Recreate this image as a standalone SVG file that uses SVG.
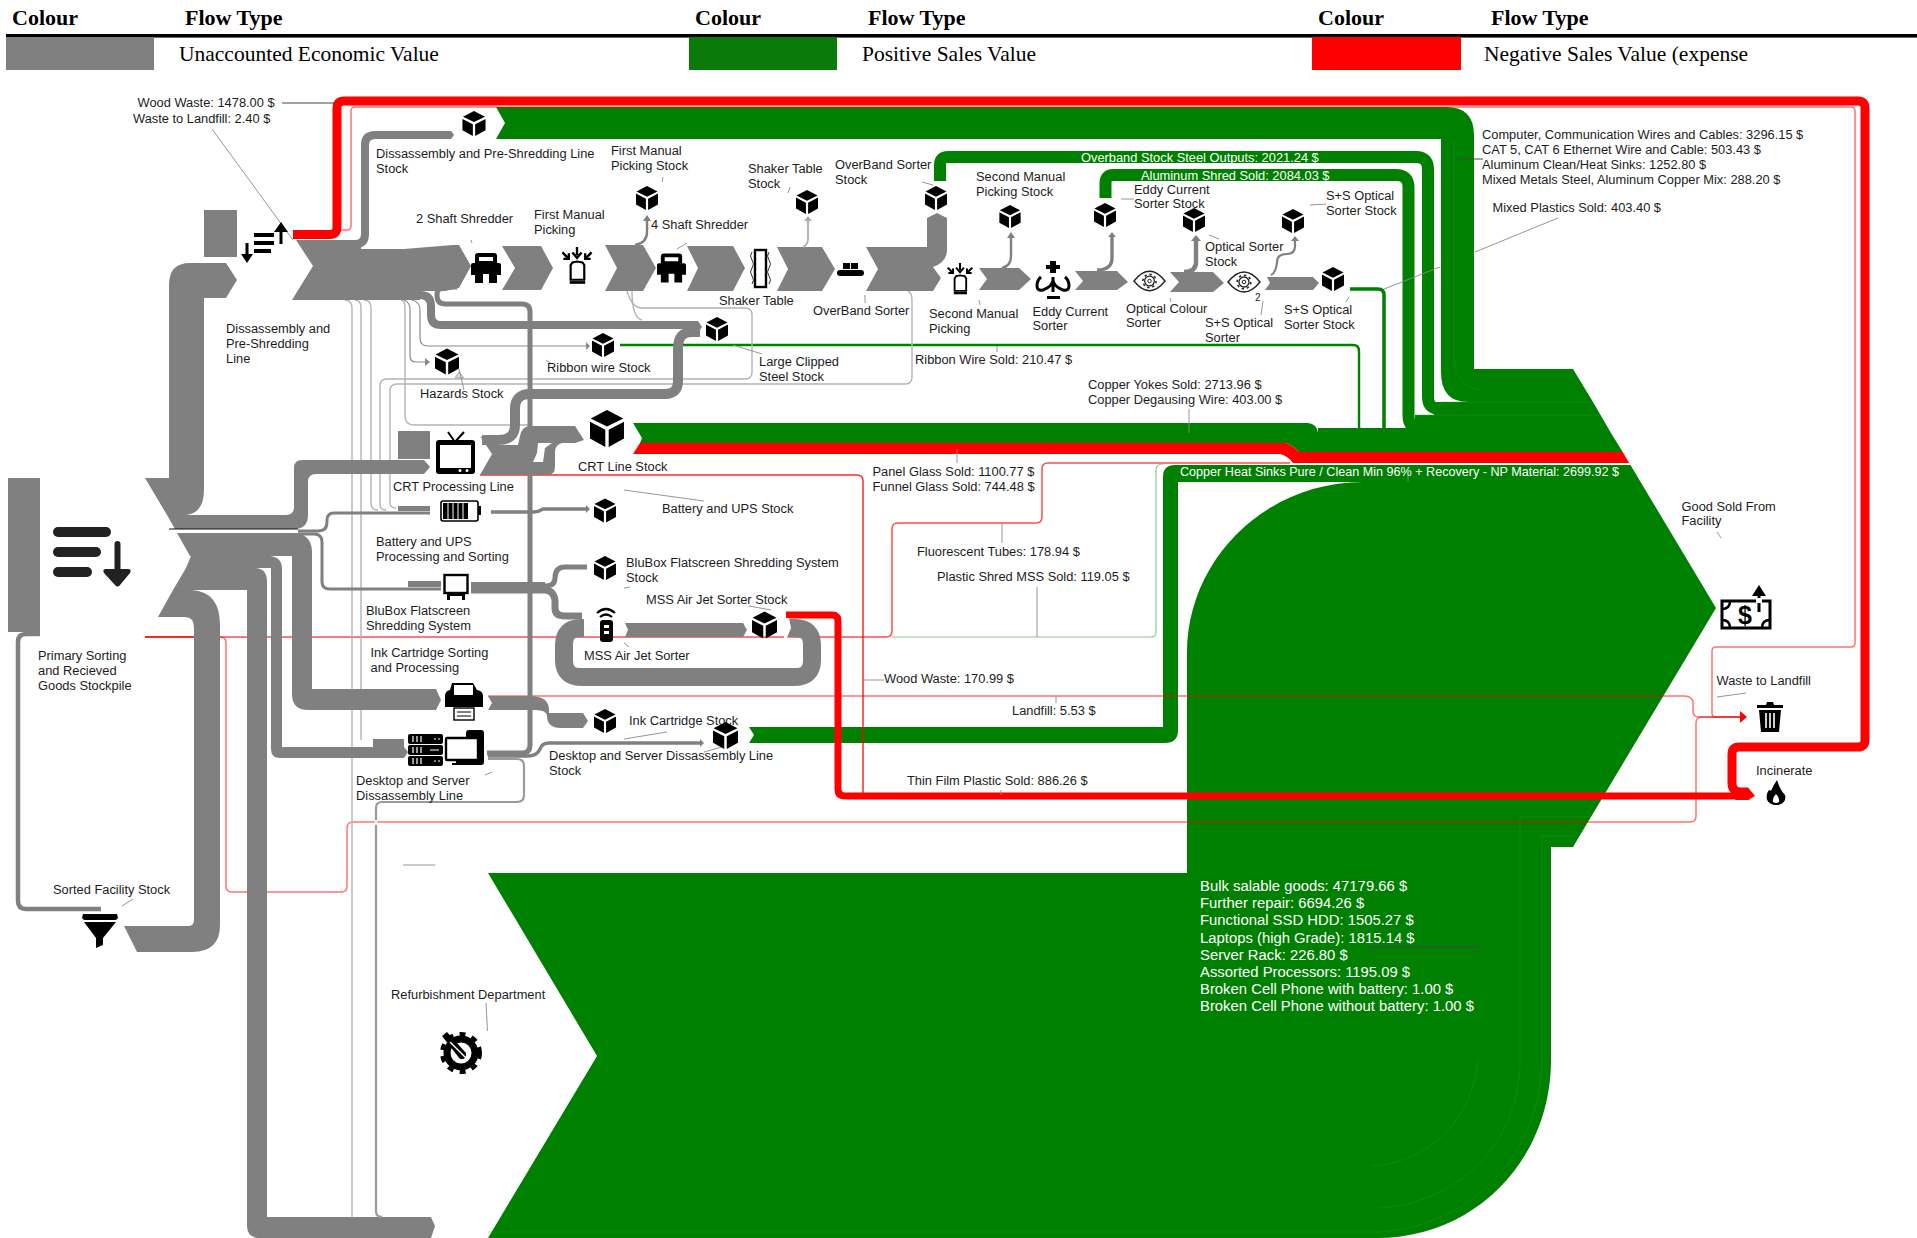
<svg xmlns="http://www.w3.org/2000/svg" width="1917" height="1238" viewBox="0 0 1917 1238">
<style>
text{font-family:"Liberation Sans",Arial,sans-serif;font-size:12.85px;fill:#1c1c1c}
.h{font-family:"Liberation Serif","Times New Roman",serif;font-weight:700;font-size:22px;fill:#000}
.v{font-family:"Liberation Serif","Times New Roman",serif;font-size:21.5px;fill:#000}
.w{fill:#fff}.b{font-size:14.85px;fill:#fff}
.gr{fill:#808080}.gn{fill:#008000}.rd{fill:#f00}
.sg{fill:none;stroke:#808080}
.sn{fill:none;stroke:#008000}
.sr{fill:none;stroke:#f00}
.tl{fill:none;stroke:#f00;stroke-width:1.5;opacity:.55}
.lg{fill:none;stroke:#b4b4b4;stroke-width:1.4}
.ld{fill:none;stroke:#8a8a8a;stroke-width:.9}
.sm{fill:none;stroke:#1f9a1f;stroke-width:1;opacity:.4}
.wh{fill:#fff}
</style>
<defs>
<symbol id="cube" viewBox="-12 -13 24 26"><path d="M0-13 11.5-7 0-1.5-11.5-7ZM-12-4.8-1.2.8V13L-12 7ZM12-4.8 1.2.8V13L12 7Z"/></symbol>
<symbol id="shred" viewBox="0 0 30 30"><path fill-rule="evenodd" d="M7 0H23Q26 0 26 3V10H28Q30 10 30 12V22H26V30H18V21H12V30H4V22H0V12Q0 10 2 10H4V3Q4 0 7 0ZM8 4V8H22V4Z"/></symbol>
<symbol id="pick" viewBox="0 0 36 44"><path d="M18 0V9M13 6 18 12 23 6M2 6 9 13M3 13H9V7M34 6 27 13M33 13H27V7" fill="none" stroke="#000" stroke-width="2.6"/><path d="M11 20 13 17 18 16 24 17 26 20V36H11Z" fill="#fff" stroke="#000" stroke-width="2.4"/><path d="M10 39H27" stroke="#000" stroke-width="3" fill="none"/></symbol>
<symbol id="eye" viewBox="0 0 34 22"><path d="M1 11Q17-9 33 11 17 31 1 11Z" fill="#fff" stroke="#222" stroke-width="1.4"/><circle cx="17" cy="11" r="5" fill="none" stroke="#222" stroke-width="1.3"/><circle cx="17" cy="11" r="6.8" fill="none" stroke="#222" stroke-width="1.6" stroke-dasharray="2.4 2.9"/><circle cx="17" cy="11" r="1.8" fill="none" stroke="#222"/></symbol>
</defs>

<g id="legend">
<rect x="6" y="34" width="1911" height="3.6" fill="#000"/>
<rect x="6" y="37" width="148" height="33" class="gr"/>
<rect x="689" y="37" width="148" height="33" fill="#0a7a0a"/>
<rect x="1312" y="37" width="149" height="33" class="rd"/>
<text class="h" x="12" y="25">Colour</text><text class="h" x="185" y="25">Flow Type</text>
<text class="h" x="695" y="25">Colour</text><text class="h" x="868" y="25">Flow Type</text>
<text class="h" x="1318" y="25">Colour</text><text class="h" x="1491" y="25">Flow Type</text>
<text class="v" x="179" y="61">Unaccounted Economic Value</text>
<text class="v" x="862" y="61">Positive Sales Value</text>
<text class="v" x="1484" y="61">Negative Sales Value (expense</text>
</g>

<g id="connectors">
<!-- main green -->
<path class="gn" d="M488,873 L597,1056 L488,1238 H1377 C1475,1238 1551,1160 1551,1060 V847 H1573 L1716,608 L1640.6,482 H1363 C1265,482 1187,560 1187,653 V873 Z"/>
<path class="gn" d="M749,727 L754,735 L749,743 H1165 Q1178,743 1178,730 V482 H1640.6 L1630.5,465 H1175 Q1163,465 1163,477 V727 Z"/>
<path class="gn" d="M496,107 L505,123 L496,139 H1441 V372 Q1441,402 1468,402 H1593 L1573,369 H1474 V135 Q1474,107 1446,107 Z"/>
<path class="gn" d="M1318,433 V428 H1415 V415 H1434 V402 H1593 L1611,433 Z"/>
<path class="sn" stroke-width="12" d="M940,181 V165 Q940,157 948,157 H1416 Q1428,157 1428,169 V397 Q1428,409 1440,409 H1500"/>
<path class="gn" d="M934,181 L940,177 L946,181Z"/>
<path class="sn" stroke-width="12" d="M1105.5,198 V183 Q1105.5,175 1113,175 H1396 Q1408.5,175 1408.5,187 V416 Q1408.5,428 1420,428 H1500"/>
<path class="gn" d="M633,423 H1308 Q1317,424 1318,433 H1611 L1622.7,452 H1299 Q1294,446 1286,443 H640 L642,438 Z"/>
<path class="rd" d="M640,443 L633,454 H1280 Q1288,456 1293,463 H1629.2 L1622.7,452 H1299 Q1294,446 1286,443 Z"/>
<path class="sn" stroke-width="3.5" d="M1350,289 H1378 Q1384,289 1384,295 V428"/>
<path class="sn" stroke-width="2.4" d="M620,345 H1353 Q1359,345 1359,351 V426 Q1359,432 1365,432"/>
<path class="sm" d="M1520,817 V1060 C1520,1150 1450,1205 1378,1208M1542,837 V1060 C1540,1165 1460,1228 1378,1232M1520,817 H1590M1540,836 H1575M1478,1060 C1472,1120 1430,1162 1372,1166M488,1232 H1378M1454,140 V360 Q1456,385 1480,390M1441,402 H1590M1415,415 H1600"/>
<!-- red -->
<path class="sr" stroke-width="9" d="M293,234.5 H330 Q337,234.5 337,227 V108 Q337,101 344,101 H1858 Q1865,101 1865,108 V740 Q1865,747 1858,747 H1739 Q1732,747 1732,754 V783 Q1732,792 1741,792"/>
<path class="rd" d="M1741,787.500 H1748 L1755,796 L1748,800 H1735Z"/>
<path class="sr" stroke-width="7" d="M786,615 H832 Q838,615 838,621 V789 Q838,796 845,796 H1750"/>
<path class="tl" d="M340,230 H347 Q351,230 351,226 V111 Q351,107 355,107 H1851 Q1855,107 1855,111 V643 Q1855,647 1851,647 H1716 Q1712,647 1712,651 V713 Q1712,717 1716,717 H1745"/>
<path class="tl" d="M145,637 H220 Q226,637 226,643 V886 Q226,892 232,892 H341 Q347,892 347,886 V828 Q347,822 353,822 H1690 Q1696,822 1696,816 V723 Q1696,717 1702,717 H1745"/>
<path class="sr" stroke-width="1.5" d="M145,637 H220"/>
<path class="tl" style="opacity:.7" d="M220,637 H886 Q892,637 892,631 V529 Q892,523 898,523 H1036 Q1042,523 1042,517 V469 Q1042,463 1048,463 H1290"/>
<path class="tl" style="opacity:.85" d="M480,475 H857 Q863,475 863,481 V797"/>
<path class="tl" d="M488,696 H1684 Q1693,696 1693,703 V711 Q1693,717 1699,717 H1745"/>
<path fill="none" stroke="#3fa83f" stroke-width="1.2" opacity=".6" d="M892,637 H1151 Q1156,637 1156,632 V470 Q1156,464 1163,464"/>
<path class="rd" d="M1740,711 L1747,717 L1740,723Z"/>

<!-- light lines -->
<path class="lg" d="M345,300 Q352,300 352,308 V1217M355,300 Q361,300 361,308 V740M364,300 Q371,300 371,308 V503 Q371,510 378,510M627,291 Q632,308 642,308 H745 Q752,308 752,315 V372 Q752,379 745,379 H387 Q380,379 380,386 V504 Q380,510 386,510M632,291 Q632,318 642,320M908,291 Q912,293 912,300 V377 Q912,384 905,384 H397 Q390,384 390,391 V503 Q390,508 396,508M401,300 Q405,300 405,308 V416 Q405,425 414,425 H530"/>
<path class="ld" style="stroke-width:1.2" d="M404,300 Q410,302 410,310 V356 Q410,362 416,362 H427"/>
<path fill="#888" d="M425,358 L430,362 L425,366Z"/>
<path class="ld" style="stroke-width:1.2" d="M412,300 Q420,302 420,310 V338 Q420,346 428,346 H587"/>
<path fill="#888" d="M586,342 L590,346 L586,350Z"/>
<path fill="#ddd" stroke="#aaa" d="M459,372 L455,378 H464Z"/>

<!-- grey bands from primary -->
<path class="gr" d="M169,478 H145 L167,515 H186 Q204,513 204,490 V298 H226 L237,280 L226,263 H190 Q169,263 169,285 Z"/>
<path class="gr" d="M167,515 H286 Q294,515 294,507 V468 Q294,460 302,460 H424 L430,467 L424,474 H316 Q308,474 308,482 V515 Q308,529 294,529 H175 Z"/>
<path class="gr" d="M177,533 H298 Q312,537 312,552 V689 H436 L441,700 L436,710 H308 Q292,710 292,694 V556 H190 Z"/>
<path class="gr" d="M191,556 H270 Q282,557 282,569 V747 H404 L408,752 L404,758 H280 Q271,758 271,749 V568 H186 Z"/>
<path class="gr" d="M186,568 H255 Q267,568 267,582 V1217 H431 L435,1226 L431,1238 H260 Q247,1238 247,1226 V590 H173 Z"/>
<path class="gr" d="M173,590 H192 Q220,592 220,625 V925 Q220,952 192,952 H137 L124,926 H188 Q194,926 194,920 V628 Q194,617 185,617 H158 Z"/>
<path d="M169,529 H298" stroke="#111" fill="none"/>
<rect class="gr" x="8" y="478" width="32" height="154"/>
<path class="sg" stroke-width="4.5" d="M40,634 H26 Q18,634 18,642 V901 Q18,909 26,909 H101"/>
<path class="sg" stroke-width="3" d="M298,531 H318 Q327,531 327,522 V520 Q327,513 334,513 H430"/>
<path class="sg" stroke-width="3" d="M298,534 H314 Q322,534 322,542 V582 Q322,589 330,589 H441"/>
<rect class="gr" x="204" y="210" width="33" height="47"/>
<rect class="gr" x="398" y="431" width="32" height="28"/>
<rect class="gr" x="398" y="506" width="32" height="5"/>
<rect class="gr" x="408" y="581" width="33" height="6"/>
<rect class="gr" x="373" y="739" width="31" height="8"/>
<rect class="gr" x="365" y="753" width="39" height="5"/>

<!-- disassembly line -->
<path class="gr" d="M296,240 L313,266 L292,300 H420 V291 H445 L459,288 L471,266 L459,245 H453 L404,249 H361 V240 Z"/>
<path class="sg" stroke-width="8" d="M320,244 H355 Q365,244 365,234 V145 Q365,135 375,135 H450"/>
<path class="gr" d="M449,131 H451 L454,135 L451,139 H449Z"/>
<path class="sg" stroke-width="8" d="M320,295 H420 Q431,295 431,306 V315 Q431,325 441,325 H698"/>
<path class="gr" d="M696,321 H698 L702,327 L698,333 H696Z"/>
<path class="sg" stroke-width="5" d="M457,287 H445 Q437,287 437,295 Q437,304 445,304 H522 Q530,304 530,312 V745 Q530,753 522,753 H487"/>
<path class="gr" d="M502,246 H541 L553,268 L541,290 H502 L515,268Z"/>
<path class="gr" d="M605,245 H643 L656,268 L643,291 H605 L617,268Z"/>
<path class="gr" d="M687,246 H733 L745,268 L733,291 H687 L698,268Z"/>
<path class="gr" d="M777,247 H822 L835,269 L822,291 H777 L788,269Z"/>
<path class="gr" d="M866,247 H927 V218 L937,213 L947,218 V250 Q947,262 933,267 L941,278 L933,291 H866 L878,269Z"/>
<path class="gr" d="M979,268 H1019 L1031,279 L1019,290 H979 L987,279Z"/>
<path class="gr" d="M1075,271 H1117 L1128,282 L1117,290 H1075 L1083,281Z"/>
<path class="gr" d="M1170,272 H1213 L1224,283 L1213,292 H1170 L1179,282Z"/>
<path class="gr" d="M1267,277 H1313 L1319,283 L1313,290 H1265 L1270,283Z"/>
<path class="sg" stroke-width="2.4" d="M635,245 Q647,243 647,232 V219"/><path class="gr" d="M643,221 L647,215 L651,221Z"/>
<path class="lg" style="stroke-width:2" d="M803,247 Q808,245 808,238 V219"/><path fill="#aaa" d="M804,221 L808,216 L812,221Z"/>
<path class="sg" stroke-width="2.4" d="M1002,268 Q1011,266 1011,256 V237"/><path class="gr" d="M1007,238 L1011,232 L1015,238Z"/>
<path class="sg" stroke-width="3.4" d="M1097,270 Q1112,270 1112,258 V236"/><path class="gr" d="M1108,237 L1112,232 L1116,237Z"/>
<path class="sg" stroke-width="4.4" d="M1184,272 Q1196,272 1196,262 V240"/><path class="gr" d="M1191,241 L1196,235 L1201,241Z"/>
<path class="sg" stroke-width="2.2" d="M1271,275 Q1276,273 1277,262 Q1277,254 1287,254 Q1295,254 1295,246 V240"/><path class="gr" d="M1291,241 L1295,236 L1299,241Z"/>

<!-- crt -->
<path class="sg" stroke-width="10" d="M700,332 H692 Q678,332 678,348 V381 Q678,394 665,394 H530 Q515,394 515,409 V425 Q515,440 498,440 H482"/>
<path class="gr" d="M480,436 L492,454 L480,475 H547 Q555,475 555,467 V452 Q555,445 562,443 H575 L584,440 L575,426 H530 Q522,426 520,436 L518,445 H495 Z"/>
<path class="wh" d="M533,462 H543 L545,448 L552,443 H538 L537,453Z"/>
<!-- battery, blubox, mss, ink, desktop outputs -->
<path class="sg" stroke-width="3.5" d="M491,512 H534 Q538,512 543,509 H587"/><path class="gr" d="M586,505 L590,509 L586,513Z"/>
<path class="sg" stroke-width="5" d="M471,586 H545 Q555,586 555,578 Q555,567 565,567 H587"/>
<path class="sg" stroke-width="4" d="M471,584 H545"/>
<path class="sg" stroke-width="7" d="M471,590 H545 Q553,590 555,600 V608 Q555,616 565,616 H582"/>
<path class="sg" stroke-width="18" d="M786,628 H795 Q812,628 812,645 V660 Q812,677 795,677 H581 Q564,677 564,660 V645 Q564,628 581,628 H584"/>
<path class="wh" d="M784,618 H789 L791,628 L786,640 H784Z"/>
<path class="gr" d="M625,623 H743 L747,630 L743,637 H625 L628,630Z"/>
<path class="gr" d="M488,696 H530 Q549,696 549,710 V713 H583 L588,721 L583,728 H561 Q547,728 547,716 Q547,710 535,710 H488 L492,703Z"/>
<path class="sg" stroke-width="3.4" d="M488,756 H528 Q537,756 540,749 Q542,743 549,743 H700"/><path class="gr" d="M700,739 L704,743 L700,747Z"/>
<path class="sg" stroke-width="4" d="M488,754 H522"/>
<path fill="none" stroke="#9a9a9a" stroke-width="2.2" d="M488,759 H517 Q524,759 524,766 V795 Q524,802 517,802 H382 Q376,802 376,808 V1211 Q376,1217 382,1217"/>
<path d="M376,820 V825" stroke="#f3f3f3" stroke-width="3" fill="none"/>
</g>

<g id="leaders">
<path class="ld" d="M212,129 L293,240"/>
<path stroke="#444" fill="none" d="M282,103 H335M1459,159 H1483M1368,947 H1479"/>
<path class="ld" d="M1558,218 L1475,252M1440,267 L1384,289M471,240 L472,243M663,177 L662,182M790,187 L788,193M922,182 L933,185M677,249 L687,243M865,295 V303M979,300 L980,305M1121,199 L1134,199M1209,235 L1219,239M1170,298 L1171,302M1263,301 L1261,315M1310,205 L1326,204M1349,297 L1346,302M733,345 L762,354M997,346 V352M1189,409 V433M957,449 V463M624,490 L704,501M1002,523 V543M1037,587 V637M624,588 L630,587M749,606 L771,610M624,643 L629,647M624,739 L667,732M704,752 L722,747M862,680 H884M1001,790 V795M1056,696 V703M1408,475 V482M1717,532 L1721,538M1717,697 L1746,693M122,906 L133,899M486,1003 L487.5,1031M403,865 H435M485,775 L492,772M459,369 L464,390M546,360 L552,364"/>
</g>

<g id="n-primary"><g fill="#222"><rect x="53" y="527" width="58" height="10" rx="5"/><rect x="53" y="547" width="48" height="10" rx="5"/><rect x="53" y="567" width="39" height="10" rx="5"/><path d="M114.500,544 Q114.500,541 117.500,541 Q120.500,541 120.500,544 V569 H128 Q132,569 130,573 L120,585 Q117.500,588 115,585 L104,573 Q102,569 106,569 H114.500Z"/></g>
<text x="38" y="659.500">Primary Sorting</text><text x="38" y="674.500">and Recieved</text><text x="38" y="689.500">Goods Stockpile</text></g>

<g id="n-sorted"><path d="M83,914 H117 L118,918 L116,920 H84 L82,918ZM84,922 H116 L103,938 V945 L96,948 V938Z"/><text x="53" y="893.500">Sorted Facility Stock</text></g>

<g id="n-disassembly"><g fill="#000"><rect x="254" y="233" width="20" height="4"/><rect x="254" y="241" width="20" height="4"/><rect x="254" y="249" width="17" height="4"/></g><path d="M281,244 V226M247,243 V260" stroke="#000" stroke-width="3" fill="none"/><path d="M274,232 L281,222 L288,232ZM241,254 L247,263 L253,254Z"/>
<text x="226" y="332.500">Dissassembly and</text><text x="226" y="347.500">Pre-Shredding</text><text x="226" y="362.500">Line</text></g>

<g id="n-disassembly-stock"><use href="#cube" x="462" y="111" width="24" height="25"/><text x="376" y="157.500">Dissassembly and Pre-Shredding Line</text><text x="376" y="172.500">Stock</text></g>
<g id="n-2shaft"><use href="#shred" x="471" y="253" width="30" height="30"/><text x="416" y="222.500">2 Shaft Shredder</text></g>
<g id="n-pick1"><use href="#pick" x="559" y="247" width="36" height="40"/><text x="534" y="218.500">First Manual</text><text x="534" y="233.500">Picking</text></g>
<g id="n-pick1-stock"><use href="#cube" x="636" y="186" width="22" height="24"/><text x="611" y="154.500">First Manual</text><text x="611" y="169.500">Picking Stock</text></g>
<g id="n-4shaft"><use href="#shred" x="657" y="253" width="29" height="30"/><text x="651" y="228.500">4 Shaft Shredder</text></g>
<g id="n-shaker"><rect x="755" y="250" width="11" height="37" fill="#fff" stroke="#000" stroke-width="2.4"/><path d="M752,252 q-3,4 0,8 q3,4 0,8 q-3,4 0,8 q3,4 0,8M769,252 q-3,4 0,8 q3,4 0,8 q-3,4 0,8 q3,4 0,8" fill="none" stroke="#333"/><text x="719" y="304.500">Shaker Table</text></g>
<g id="n-shaker-stock"><use href="#cube" x="796" y="190" width="22" height="24"/><text x="748" y="172.500">Shaker Table</text><text x="748" y="187.500">Stock</text></g>
<g id="n-overband"><rect x="837" y="270" width="27" height="6" rx="3"/><rect x="843" y="263" width="7" height="6"/><rect x="851" y="263" width="7" height="6"/><text x="813" y="314.500">OverBand Sorter</text></g>
<g id="n-overband-stock"><use href="#cube" x="925" y="186" width="22" height="24"/><text x="835" y="168.500">OverBand Sorter</text><text x="835" y="183.500">Stock</text></g>
<g id="n-pick2"><use href="#pick" x="946" y="263" width="28" height="34"/><text x="929" y="317.500">Second Manual</text><text x="929" y="332.500">Picking</text></g>
<g id="n-pick2-stock"><use href="#cube" x="999" y="205" width="22" height="23"/><text x="976" y="180.500">Second Manual</text><text x="976" y="195.500">Picking Stock</text></g>
<g id="n-eddy"><path d="M1050,261 h6 v4 h4 v4 h-4 v4 h-6 v-4 h-4 v-4 h4zM1047,296 h13 v3 h-13z"/><path d="M1053,277 V292M1041,277 Q1037,280 1037,286 Q1037,291 1043,290 Q1053,286 1053,280 Q1053,286 1063,290 Q1069,291 1069,286 Q1069,280 1065,277" fill="none" stroke="#000" stroke-width="3"/><text x="1032.500" y="315.500">Eddy Current</text><text x="1032.500" y="329.500">Sorter</text></g>
<g id="n-eddy-stock"><use href="#cube" x="1094" y="203" width="22" height="24"/><text x="1134" y="193.500">Eddy Current</text><text x="1134" y="207.500">Sorter Stock</text></g>
<g id="n-optical"><use href="#eye" x="1133" y="270" width="33" height="22"/><text x="1126" y="312.500">Optical Colour</text><text x="1126" y="326.500">Sorter</text></g>
<g id="n-optical-stock"><use href="#cube" x="1183" y="208" width="22" height="24"/><text x="1205" y="250.500">Optical Sorter</text><text x="1205" y="265.500">Stock</text></g>
<g id="n-ss"><use href="#eye" x="1227" y="271" width="34" height="22"/><text x="1255" y="301" style="font-size:10px">2</text><text x="1205" y="326.500">S+S Optical</text><text x="1205" y="341.500">Sorter</text></g>
<g id="n-ss-stock-top"><use href="#cube" x="1282" y="209" width="22" height="24"/><text x="1326" y="199.500">S+S Optical</text><text x="1326" y="214.500">Sorter Stock</text></g>
<g id="n-ss-stock"><use href="#cube" x="1322" y="267" width="22" height="24"/><text x="1284" y="313.500">S+S Optical</text><text x="1284" y="328.500">Sorter Stock</text></g>
<g id="n-ribbon-stock"><use href="#cube" x="592" y="333" width="22" height="24"/><text x="547" y="371.500">Ribbon wire Stock</text></g>
<g id="n-clipped-stock"><use href="#cube" x="706" y="317" width="22" height="24"/><text x="759" y="365.500">Large Clipped</text><text x="759" y="380.500">Steel Stock</text></g>
<g id="n-hazards"><use href="#cube" x="435" y="348" width="24" height="27"/><text x="420" y="397.500">Hazards Stock</text></g>
<g id="n-crt"><path d="M448,432 L455,442 L464,432" fill="none" stroke="#000" stroke-width="2"/><rect x="436" y="440" width="39" height="34" rx="3"/><rect x="440" y="445" width="31" height="23" fill="#fff"/><circle cx="460" cy="470.500" r="1.500" fill="#fff"/><circle cx="467" cy="470.500" r="1.500" fill="#fff"/><text x="393" y="490.500">CRT Processing Line</text></g>
<g id="n-crt-stock"><use href="#cube" x="590" y="410" width="34" height="37"/><text x="578" y="470.500">CRT Line Stock</text></g>
<g id="n-battery"><rect x="441" y="501" width="37" height="20" rx="2" fill="#fff" stroke="#000" stroke-width="1.600"/><rect x="443" y="503" width="25" height="16"/><path d="M448,503 V519M453,503 V519M458,503 V519M463,503 V519" stroke="#fff" fill="none"/><rect x="478" y="506" width="3" height="9"/><text x="376" y="545.500">Battery and UPS</text><text x="376" y="560.500">Processing and Sorting</text></g>
<g id="n-battery-stock"><use href="#cube" x="594" y="498" width="22" height="25"/><text x="662" y="512.500">Battery and UPS Stock</text></g>
<g id="n-blubox"><rect x="444.500" y="575" width="23" height="18" fill="#fff" stroke="#000" stroke-width="2.400"/><path d="M447,594 H465 V596 H447ZM447,596 H450 V600 H447ZM462,596 H465 V600 H462Z"/><text x="366" y="614.500">BluBox Flatscreen</text><text x="366" y="629.500">Shredding System</text></g>
<g id="n-blubox-stock"><use href="#cube" x="594" y="555" width="22" height="26"/><text x="626" y="566.500">BluBox Flatscreen Shredding System</text><text x="626" y="581.500">Stock</text></g>
<g id="n-mss"><path d="M597,613 Q606,605 615,613M600,617 Q606,612 612,617" fill="none" stroke="#000" stroke-width="2.200"/><rect x="600" y="620" width="13" height="22" rx="3"/><rect x="604" y="625" width="5" height="3" fill="#fff"/><rect x="604" y="631" width="5" height="3" fill="#fff"/><text x="584" y="659.500">MSS Air Jet Sorter</text></g>
<g id="n-mss-stock"><use href="#cube" x="752" y="611" width="25" height="28"/><text x="646" y="603.500">MSS Air Jet Sorter Stock</text></g>
<g id="n-ink"><path d="M452,683 H473 L477,690 Q483,691 483,696 V707 H445 V696 Q445,691 450,690Z"/><rect x="454" y="685" width="19" height="10" fill="#fff"/><rect x="454" y="708" width="20" height="12" fill="#fff" stroke="#000" stroke-width="1.400"/><path d="M457,712 H471M457,716 H471" stroke="#000" fill="none"/><text x="370.500" y="656.500">Ink Cartridge Sorting</text><text x="370.500" y="671.500">and Processing</text></g>
<g id="n-ink-stock"><use href="#cube" x="594" y="708" width="22" height="26"/><text x="629" y="724.500">Ink Cartridge Stock</text></g>
<g id="n-desktop"><rect x="408" y="734" width="35" height="10" rx="2"/><rect x="408" y="745" width="35" height="10" rx="2"/><rect x="408" y="756" width="35" height="10" rx="2"/><path d="M413,736 v6M417,736 v6M421,736 v6M413,758 v6M417,758 v6M421,758 v6M413,747 v6M417,747 v6M421,747 v6M430,750 h9M434,739 h2M438,739 h2M434,761 h2M438,761 h2" stroke="#fff" stroke-width="1.200" fill="none"/><rect x="466" y="730" width="18" height="35" rx="3"/><rect x="446" y="738" width="32" height="22" rx="1" fill="#fff" stroke="#000" stroke-width="2.400"/><path d="M456,760 h12 v3 h4 v2 h-20 v-2 h4z"/><text x="356" y="784.500">Desktop and Server</text><text x="356" y="799.500">Dissassembly Line</text></g>
<g id="n-desktop-stock"><use href="#cube" x="713" y="722" width="25" height="27"/><text x="549" y="759.500">Desktop and Server Dissassembly Line</text><text x="549" y="774.500">Stock</text></g>
<g id="n-refurb"><circle cx="461" cy="1053" r="14" fill="none" stroke="#000" stroke-width="7"/><circle cx="461" cy="1053" r="19" fill="none" stroke="#000" stroke-width="4" stroke-dasharray="6 6.500"/><path d="M442,1036 L447,1032 L466,1053 Q467,1060 460,1059 Z"/><path d="M450,1042 L468,1060" stroke="#fff" stroke-width="1.500" fill="none"/><text x="391" y="998.500">Refurbishment Department</text></g>
<g id="n-sold"><rect x="1722" y="601" width="48" height="27" fill="#fff" stroke="#000" stroke-width="3"/><path d="M1722,609 Q1730,609 1730,601M1770,620 Q1762,620 1762,628M1722,620 Q1730,620 1730,628" fill="none" stroke="#000" stroke-width="2.500"/><path d="M1759,612 V590" stroke="#000" stroke-width="3"/><path d="M1752,596 L1759,585 L1766,596Z"/><rect x="1756" y="598" width="6" height="5" fill="#fff"/><text x="1738" y="624" style="font-size:25px;font-weight:700;fill:#000">$</text><text x="1681.500" y="510.500">Good Sold From</text><text x="1681.500" y="524.500">Facility</text></g>
<g id="n-landfill"><path d="M1766,705 L1767,702 H1773 L1774,705 H1783 V708 H1757 V705ZM1759,710 H1781 L1779,732 H1761Z"/><path d="M1766,713 V728M1770,713 V728M1774,713 V728" stroke="#fff" stroke-width="1.600" fill="none"/><text x="1716.500" y="684.500">Waste to Landfill</text></g>
<g id="n-incinerate"><path d="M1777,780 Q1780,790 1785,795 Q1787,803 1778,805 H1774 Q1765,803 1767,794 Q1769,788 1771,791 Q1773,786 1777,780ZM1776,794 Q1772,798 1773,802 Q1776,804 1779,802 Q1780,798 1776,794Z" fill-rule="evenodd"/><text x="1756" y="774.500">Incinerate</text></g>

<g id="flow-labels">
<text x="137.500" y="107">Wood Waste: 1478.00 $</text><text x="133" y="122.500">Waste to Landfill: 2.40 $</text>
<text x="915" y="363.500">Ribbon Wire Sold: 210.47 $</text>
<text x="1088" y="388.500">Copper Yokes Sold: 2713.96 $</text><text x="1088" y="403.500">Copper Degausing Wire: 403.00 $</text>
<text x="872.500" y="475.500">Panel Glass Sold: 1100.77 $</text><text x="872.500" y="490.500">Funnel Glass Sold: 744.48 $</text>
<text x="917" y="555.500">Fluorescent Tubes: 178.94 $</text>
<text x="937" y="580.500">Plastic Shred MSS Sold: 119.05 $</text>
<text x="884" y="682.500">Wood Waste: 170.99 $</text>
<text x="1012" y="714.500">Landfill: 5.53 $</text>
<text x="907" y="784.500">Thin Film Plastic Sold: 886.26 $</text>
<text class="w" x="1081" y="161.500">Overband Stock Steel Outputs: 2021.24 $</text>
<text class="w" x="1141" y="179.500">Aluminum Shred Sold: 2084.03 $</text>
<text x="1482" y="139">Computer, Communication Wires and Cables: 3296.15 $</text>
<text x="1482" y="154">CAT 5, CAT 6 Ethernet Wire and Cable: 503.43 $</text>
<text x="1482" y="169">Aluminum Clean/Heat Sinks: 1252.80 $</text>
<text x="1482" y="184">Mixed Metals Steel, Aluminum Copper Mix: 288.20 $</text>
<text x="1492.500" y="211.500">Mixed Plastics Sold: 403.40 $</text>
<text class="w" style="font-size:12.6px" x="1180" y="475.500">Copper Heat Sinks Pure / Clean Min 96% + Recovery - NP Material: 2699.92 $</text>
<text class="b" x="1200" y="891">Bulk salable goods: 47179.66 $</text>
<text class="b" x="1200" y="908.200">Further repair: 6694.26 $</text>
<text class="b" x="1200" y="925.400">Functional SSD HDD: 1505.27 $</text>
<text class="b" x="1200" y="942.600">Laptops (high Grade): 1815.14 $</text>
<text class="b" x="1200" y="959.800">Server Rack: 226.80 $</text>
<text class="b" x="1200" y="977">Assorted Processors: 1195.09 $</text>
<text class="b" x="1200" y="994.200">Broken Cell Phone with battery: 1.00 $</text>
<text class="b" x="1200" y="1011.400">Broken Cell Phone without battery: 1.00 $</text>
</g>
</svg>
